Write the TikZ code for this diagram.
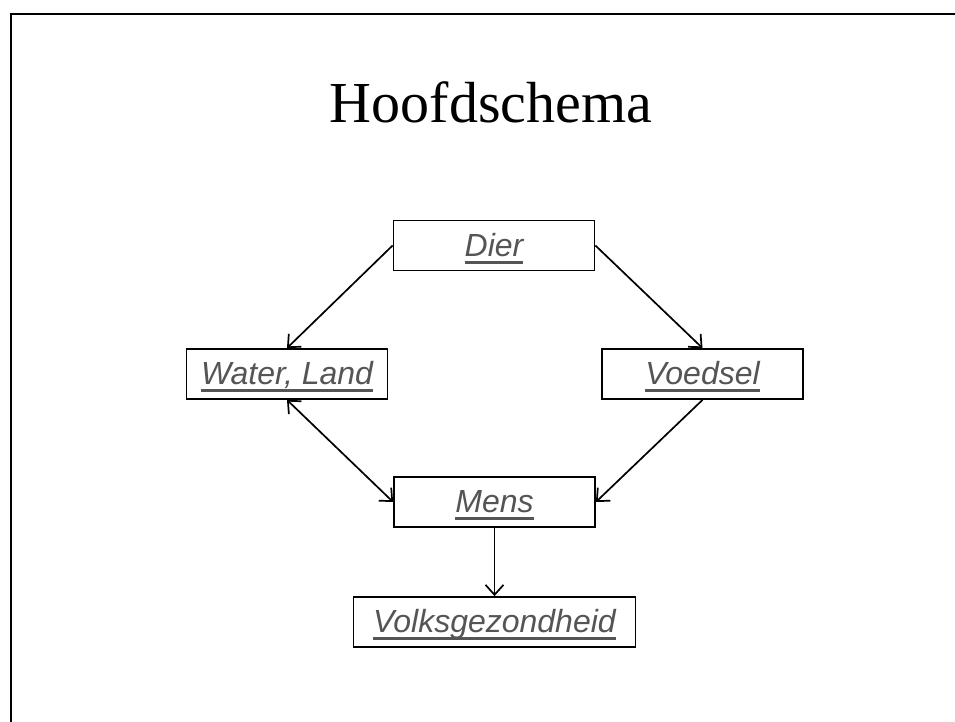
\documentclass[tikz,border=0pt]{standalone}
\usepackage{fontspec}
\setmainfont{Liberation Serif}
\newfontfamily\boxfont{Liberation Sans}
\usepackage{xcolor}
\usetikzlibrary{arrows.meta,positioning}
\definecolor{linkgray}{HTML}{555555}
% underlined link-like text in the boxes
\newcommand{\linktext}[1]{\setbox0\hbox{#1}\rlap{\raisebox{-7.5pt}{\rule{\wd0}{2.8pt}}}\box0}
\tikzset{%
    >={Straight Barb[length=10pt,width=18pt]},
    % Specifications for style of nodes:
    base/.style = {
        rectangle, draw=black, line width=1.8pt,
        minimum height=50pt, text height=24pt, text depth=3pt,
        text centered, fill=white, text=linkgray,
        font=\boxfont\itshape\fontsize{32}{38}\selectfont
    },
    topic/.style = {base, minimum width=201pt},
    wide/.style = {base, minimum width=282pt},
    link/.style = {draw=black, line width=1.7pt}
}
\begin{document}
\begin{tikzpicture}[x=1pt, y=-1pt]
    \useasboundingbox (0,0) rectangle (955,722);
    \fill[white] (0,0) rectangle (955,722);
    \draw[line width=2.6pt] (11,722) -- (11,14) -- (955,14);
    \node[font=\fontsize{58}{64}\selectfont, anchor=base] (title) at (491,123) {Hoofdschema};
    \node[topic] (dier) at (494,245.5) {\linktext{Dier}};
    \node[topic] (water) at (287,374) {\linktext{Water, Land}};
    \node[topic] (voedsel) at (702.5,374) {\linktext{Voedsel}};
    \node[topic] (mens) at (494.5,502) {\linktext{Mens}};
    \node[wide] (volks) at (494.5,622) {\linktext{Volksgezondheid}};
    \draw[link, ->] (dier.west) -- (water.north);
    \draw[link, ->] (dier.east) -- (voedsel.north);
    \draw[link, <->] (water.south) -- (mens.west);
    \draw[link, ->] (voedsel.south) -- (mens.east);
    \draw[link, ->] (mens.south) -- (volks.north);
\end{tikzpicture}
\end{document}
